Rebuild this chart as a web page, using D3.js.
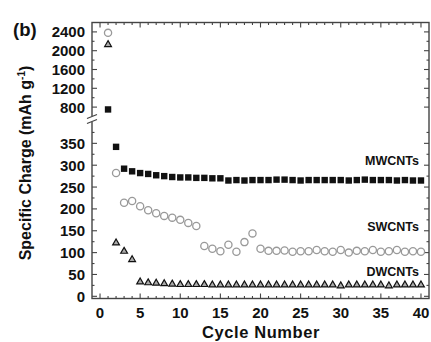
<!DOCTYPE html>
<html>
<head>
<meta charset="utf-8">
<script src="https://cdn.jsdelivr.net/npm/d3@7"></script>
<style>
  body { margin: 0; background: #fff; }
  text { font-family: "Liberation Sans", Arial, sans-serif; font-weight: bold; fill: #111; }
</style>
</head>
<body>
<div id="chart"></div>
<script>
// cycle numbers
const cycles = [1,2,3,4,5,6,7,8,9,10,11,12,13,14,15,16,17,18,19,20,
                21,22,23,24,25,26,27,28,29,30,31,32,33,34,35,36,37,38,39,40];

// specific charge, mAh/g
const mwcnt = [750,342,292,286,282,280,277,275,273,272,272,271,271,270,270,265,266,265,266,266,
               266,267,267,266,265,266,266,266,266,266,265,266,267,266,266,266,265,266,265,265];
const swcnt = [2380,282,214,218,206,197,190,184,180,175,168,161,115,109,103,118,102,124,144,109,
               104,104,105,102,103,103,106,103,102,106,100,104,103,106,102,103,106,102,103,102];
const dwcnt = [2130,122,103,84,33,31,30,29,28,27,27,27,27,26,26,26,26,26,26,26,
               26,26,26,26,26,26,26,26,26,24,26,26,26,26,26,24,26,26,26,26];

const seriesNames = ["MWCNTs", "SWCNTs", "DWCNTs"];
const xTicks = [0,5,10,15,20,25,30,35,40];
const yTicksUpper = [800,1200,1600,2000,2400];
const yTicksLower = [0,50,100,150,200,250,300,350];

const W = 431, H = 342;
const mLeft = 92, mRight = 429, mTop = 22.5, mBottom = 298.5;
const breakTop = 116.5, breakBottom = 121.5;

const svg = d3.select("#chart").append("svg")
  .attr("width", W).attr("height", H);

const x = d3.scaleLinear().domain([-1, 41]).range([mLeft, mRight]);
const yUp = d3.scaleLinear().domain([600, 2600]).range([breakTop, mTop]);
const yLo = d3.scaleLinear().domain([-5, 400]).range([mBottom, breakBottom]);
const y = v => v > 500 ? yUp(v) : yLo(v);

const axisColor = "#444";

// frame
svg.append("rect")
  .attr("x", mLeft).attr("y", mTop)
  .attr("width", mRight - mLeft).attr("height", mBottom - mTop)
  .attr("fill", "none").attr("stroke", axisColor).attr("stroke-width", 1.4);

// x ticks (bottom + top), inward
const xMinor = d3.range(0, 41);
const tickG = svg.append("g").attr("stroke", axisColor).attr("stroke-width", 1.1);
xMinor.forEach(v => {
  const len = v % 5 === 0 ? 5 : 2.5;
  tickG.append("line").attr("x1", x(v)).attr("x2", x(v)).attr("y1", mBottom).attr("y2", mBottom - len);
  tickG.append("line").attr("x1", x(v)).attr("x2", x(v)).attr("y1", mTop).attr("y2", mTop + len);
});

// y ticks, inward on left and right
function yTick(py, major) {
  const len = major ? 5 : 2.5;
  tickG.append("line").attr("x1", mLeft).attr("x2", mLeft + len).attr("y1", py).attr("y2", py);
  tickG.append("line").attr("x1", mRight).attr("x2", mRight - len).attr("y1", py).attr("y2", py);
}
d3.range(800, 2600, 200).forEach(v => yTick(yUp(v), v % 400 === 0));
d3.range(0, 400, 25).forEach(v => yTick(yLo(v), v % 50 === 0));

// axis break marks
svg.append("rect").attr("x", mLeft - 4).attr("y", breakTop - 0.5)
  .attr("width", 8).attr("height", breakBottom - breakTop + 1).attr("fill", "#fff");
[breakTop, breakBottom].forEach(py => {
  svg.append("line")
    .attr("x1", mLeft - 5).attr("x2", mLeft + 5)
    .attr("y1", py + 2).attr("y2", py - 2)
    .attr("stroke", axisColor).attr("stroke-width", 1.2);
});

// tick labels
svg.append("g").selectAll("text").data(xTicks).join("text")
  .attr("x", d => x(d)).attr("y", 318)
  .attr("text-anchor", "middle").attr("font-size", 15)
  .text(d => d);

svg.append("g").selectAll("text").data(yTicksUpper).join("text")
  .attr("x", 85).attr("y", d => yUp(d) + 5.5)
  .attr("text-anchor", "end").attr("font-size", 15)
  .text(d => d);

svg.append("g").selectAll("text").data(yTicksLower).join("text")
  .attr("x", 85).attr("y", d => yLo(d) + 5.5)
  .attr("text-anchor", "end").attr("font-size", 15)
  .text(d => d);

// axis titles
svg.append("text")
  .attr("x", 261).attr("y", 338)
  .attr("text-anchor", "middle").attr("font-size", 16.5)
  .attr("letter-spacing", 0.6)
  .text("Cycle Number");

const yl = svg.append("text")
  .attr("transform", "translate(31,163) rotate(-90)")
  .attr("text-anchor", "middle").attr("font-size", 16);
yl.append("tspan").text("Specific Charge (mAh g");
yl.append("tspan").attr("dy", -6).attr("font-size", 10).text("-1");
yl.append("tspan").attr("dy", 6).text(")");

svg.append("text")
  .attr("x", 13).attr("y", 36).attr("font-size", 18.5)
  .text("(b)");

// series markers
const mwG = svg.append("g");
mwG.selectAll("rect").data(cycles).join("rect")
  .attr("x", d => x(d) - 3.2).attr("y", (d, i) => y(mwcnt[i]) - 3.2)
  .attr("width", 6.4).attr("height", 6.4).attr("fill", "#111");

const swG = svg.append("g");
swG.selectAll("circle").data(cycles).join("circle")
  .attr("cx", d => x(d)).attr("cy", (d, i) => y(swcnt[i]))
  .attr("r", 3.6).attr("fill", "#fff").attr("stroke", "#999").attr("stroke-width", 1.3);

const tri = d3.symbol().type(d3.symbolTriangle).size(20);
const dwG = svg.append("g");
dwG.selectAll("path").data(cycles).join("path")
  .attr("d", tri)
  .attr("transform", (d, i) => `translate(${x(d)},${y(dwcnt[i])})`)
  .attr("fill", "#aaa").attr("stroke", "#111").attr("stroke-width", 1.2);

// series labels
const labelY = [165, 231, 276];
svg.append("g").selectAll("text").data(seriesNames).join("text")
  .attr("x", 419).attr("y", (d, i) => labelY[i])
  .attr("text-anchor", "end").attr("font-size", 12.5)
  .text(d => d);
</script>
</body>
</html>
